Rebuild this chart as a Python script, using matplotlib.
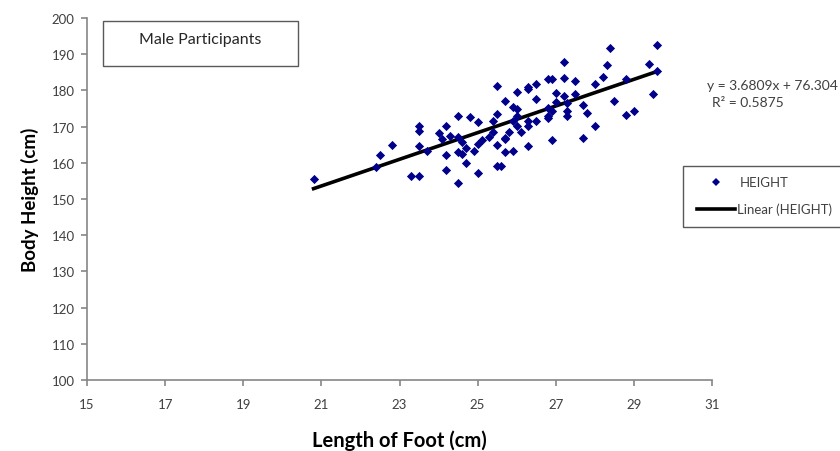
import numpy as np
import matplotlib
matplotlib.use("Agg")
import matplotlib.pyplot as plt
from matplotlib.lines import Line2D
from matplotlib.patches import Rectangle

plt.rcParams['font.family'] = ['Lato', 'DejaVu Sans']

# foot length (cm) and body height (cm) of the male participants
foot_len = [20.8, 22.4, 22.5, 22.8, 23.3, 23.5, 23.5, 23.5, 23.5, 23.7,
            24.0, 24.1, 24.2, 24.2, 24.2, 24.3, 24.5, 24.5, 24.6, 24.5,
            24.6, 24.7, 24.7, 24.5, 24.8, 25.0, 24.9, 25.0, 25.1, 25.0,
            25.3, 25.4, 25.5, 25.5, 25.5, 25.5, 25.4, 25.7, 25.7, 25.7,
            25.7, 26.0, 25.8, 25.9, 25.9, 26.0, 26.0, 26.0, 25.9, 26.1,
            26.3, 26.3, 26.3, 26.3, 26.3, 26.5, 26.5, 26.5, 26.8, 26.8,
            26.8, 26.9, 26.9, 26.9, 27.0, 27.2, 27.2, 27.2, 27.3, 27.3,
            27.5, 27.5, 27.7, 27.8, 27.7, 28.0, 28.0, 28.2, 28.3, 28.4,
            28.5, 28.8, 28.8, 29.0, 29.4, 29.6, 29.6, 29.5, 25.6, 26.8,
            27.0, 27.3]
body_height = [155.5, 158.8, 162.2, 164.9, 156.4, 156.4, 170.2, 168.8, 164.6, 163.3,
               168.2, 166.6, 170.2, 162.2, 158.0, 167.4, 172.9, 167.1, 165.7, 163.0,
               162.4, 164.1, 159.9, 154.4, 172.7, 171.3, 163.3, 165.2, 166.3, 157.2,
               167.1, 168.5, 164.9, 181.2, 159.1, 173.5, 171.5, 166.9, 177.1, 163.0,
               166.6, 172.9, 168.5, 163.3, 175.4, 174.9, 179.6, 170.2, 171.5, 168.5,
               180.4, 180.9, 171.5, 170.2, 164.6, 181.8, 177.6, 171.5, 172.4, 172.9,
               183.1, 183.1, 174.3, 166.3, 179.3, 178.5, 187.8, 183.4, 174.3, 172.9,
               182.6, 179.0, 176.0, 173.8, 166.9, 170.2, 181.8, 183.7, 187.0, 191.7,
               177.1, 183.1, 173.2, 174.3, 187.3, 185.4, 192.5, 179.0, 159.1, 175.1,
               176.8, 176.5]

# Excel linear trendline
slope = 3.6809
intercept = 76.304
r_squared = 0.5875

x_ticks = [15, 17, 19, 21, 23, 25, 27, 29, 31]
y_ticks = [100, 110, 120, 130, 140, 150, 160, 170, 180, 190, 200]

navy = '#00008B'
axis_grey = '#868686'
text_col = '#404040'

fig = plt.figure(figsize=(8.4, 4.52), dpi=100)
ax = fig.add_axes([0.1036, 0.157, 0.744, 0.801])

ax.scatter(foot_len, body_height, marker='D', s=22, color=navy, linewidths=0, zorder=3)

xs = np.array([min(foot_len), max(foot_len)])
ax.plot(xs, slope * xs + intercept, color='black', lw=2.6, zorder=2)

ax.set_xlim(15, 31)
ax.set_ylim(100, 200)
ax.set_xticks(x_ticks)
ax.set_yticks(y_ticks)
for side in ['top', 'right']:
    ax.spines[side].set_visible(False)
for side in ['left', 'bottom']:
    ax.spines[side].set_color(axis_grey)
    ax.spines[side].set_linewidth(1.2)
ax.tick_params(direction='out', length=4, width=1.2, color=axis_grey,
               labelsize=9.5, labelcolor=text_col)
ax.tick_params(axis='x', pad=9)
ax.tick_params(axis='y', pad=5)

ax.set_xlabel('Length of Foot (cm)', fontsize=14.5, fontweight='bold', labelpad=14)
ax.set_ylabel('Body Height (cm)', fontsize=13.5, fontweight='bold', labelpad=9)

# title box
fig.patches.append(Rectangle((103 / 840, 1 - 67 / 452), 195 / 840, 45 / 452,
                             transform=fig.transFigure, fill=False,
                             edgecolor='#595959', lw=1.0))
fig.text(200 / 840, 1 - 40 / 452, 'Male Participants', ha='center', va='center',
         fontsize=11.5, color='#262626')

# trendline equation
fig.text(707 / 840, 1 - 86 / 452, 'y = %.4fx + %.3f' % (slope, intercept),
         ha='left', va='center', fontsize=10, color=text_col)
fig.text(748 / 840, 1 - 103 / 452, 'R² = %.4f' % r_squared,
         ha='center', va='center', fontsize=10, color=text_col)

# legend box
fig.patches.append(Rectangle((683 / 840, 1 - 228 / 452), 170 / 840, 61 / 452,
                             transform=fig.transFigure, fill=False,
                             edgecolor='#595959', lw=1.0))
fig.add_artist(Line2D([716 / 840], [1 - 183 / 452], marker='D', markersize=4.5,
                      color=navy, markeredgewidth=0, transform=fig.transFigure))
fig.text(740 / 840, 1 - 183 / 452, 'HEIGHT', ha='left', va='center',
         fontsize=9.5, color=text_col)
fig.add_artist(Line2D([697 / 840, 735 / 840], [1 - 210 / 452, 1 - 210 / 452],
                      color='black', lw=2.6, transform=fig.transFigure))
fig.text(737 / 840, 1 - 210 / 452, 'Linear (HEIGHT)', ha='left', va='center',
         fontsize=9.5, color=text_col)

fig.savefig('out.png', dpi=100)
